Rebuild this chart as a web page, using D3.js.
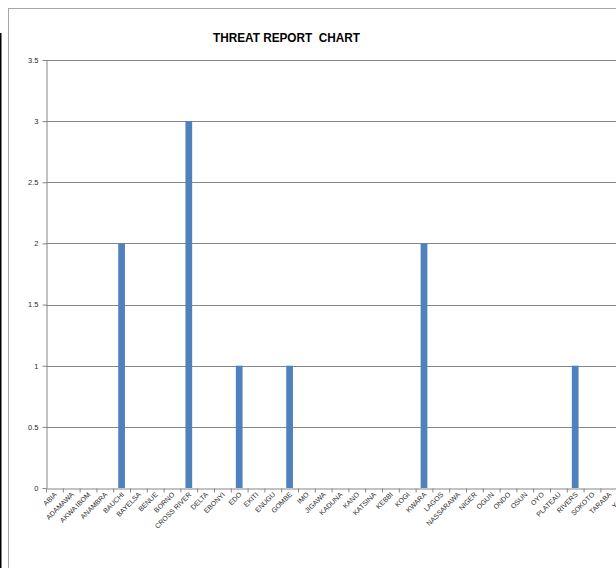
<html>
<head>
    <title>Threat report chart</title>
    <script src="https://d3js.org/d3.v7.min.js"></script>
    <style>
        body { margin: 0; background: #fff; }
        .grid line { stroke: #868686; stroke-width: 1px; }
        .axis path, .axis line { stroke: #868686; }
        .axis text { fill: #2b2b2b; font-family: "Liberation Sans", Arial, sans-serif; }
    </style>
</head>
<body>
<svg id="chart" width="616" height="568" style="background: #fff"></svg>
<script>
    // states on the category axis, in sheet order (the chart is cut off after YOBE)
    const states = ["ABIA", "ADAMAWA", "AKWA IBOM", "ANAMBRA", "BAUCHI", "BAYELSA", "BENUE", "BORNO",
        "CROSS RIVER", "DELTA", "EBONYI", "EDO", "EKITI", "ENUGU", "GOMBE", "IMO", "JIGAWA", "KADUNA",
        "KANO", "KATSINA", "KEBBI", "KOGI", "KWARA", "LAGOS", "NASSARAWA", "NIGER", "OGUN", "ONDO",
        "OSUN", "OYO", "PLATEAU", "RIVERS", "SOKOTO", "TARABA", "YOBE"];
    // number of threats reported per state
    const threats = [0, 0, 0, 0, 2, 0, 0, 0,
        3, 0, 0, 1, 0, 0, 1, 0, 0, 0,
        0, 0, 0, 0, 2, 0, 0, 0, 0, 0,
        0, 0, 0, 1, 0, 0, 0];
    const yTicks = [0, 0.5, 1, 1.5, 2, 2.5, 3, 3.5];

    const svg = d3.select("#chart");
    const width = +svg.attr("width");
    const height = +svg.attr("height");

    const plot = { left: 46, top: 60, bottom: 488, step: 16.8 };
    const plotRight = plot.left + plot.step * states.length;

    // stray black line at the left edge and the chart frame
    svg.append("line")
        .attr("x1", 0.75).attr("x2", 0.75)
        .attr("y1", 33).attr("y2", height)
        .attr("stroke", "#000").attr("stroke-width", 1.5);
    svg.append("rect")
        .attr("x", 8.5).attr("y", 8.5)
        .attr("width", width + 50).attr("height", height + 50)
        .attr("fill", "none").attr("stroke", "#a6a6a6");

    svg.append("text")
        .attr("x", 286.5).attr("y", 42)
        .attr("text-anchor", "middle")
        .attr("font-family", "Liberation Sans, Arial, sans-serif")
        .attr("font-weight", "bold")
        .attr("font-size", 13)
        .attr("textLength", 147)
        .attr("lengthAdjust", "spacingAndGlyphs")
        .attr("fill", "#000")
        .style("white-space", "pre")
        .text("THREAT REPORT  CHART");

    const x = d3.scaleBand().domain(states)
        .range([plot.left, plotRight])
        .paddingInner(0.6).paddingOuter(0.3);
    const xEdges = d3.scaleLinear().domain([0, states.length]).range([plot.left, plotRight]);
    const y = d3.scaleLinear().domain([0, 3.5]).range([plot.bottom, plot.top]);

    // horizontal gridlines
    svg.append("g").attr("class", "grid")
        .selectAll("line").data(yTicks.filter(d => d > 0))
        .join("line")
        .attr("x1", plot.left).attr("x2", plotRight)
        .attr("y1", d => Math.round(y(d)) + 0.5)
        .attr("y2", d => Math.round(y(d)) + 0.5);

    // bars
    svg.append("g")
        .selectAll("rect").data(states)
        .join("rect")
        .attr("x", d => x(d))
        .attr("width", x.bandwidth())
        .attr("y", (d, i) => y(threats[i]))
        .attr("height", (d, i) => y(0) - y(threats[i]))
        .attr("fill", "#4f81bd");

    // y axis
    const yAxis = svg.append("g").attr("class", "axis")
        .attr("transform", `translate(${plot.left + 0.5},0)`)
        .call(d3.axisLeft(y).tickValues(yTicks).tickSize(4).tickSizeOuter(0).tickPadding(4)
            .tickFormat(d => String(d)));
    yAxis.selectAll("text").attr("font-size", 7.5);

    // x axis line and tick marks between categories
    svg.append("g").attr("class", "axis")
        .attr("transform", `translate(0,${plot.bottom + 0.5})`)
        .call(d3.axisBottom(xEdges).tickValues(d3.range(states.length + 1))
            .tickSize(4).tickSizeOuter(0).tickFormat(""));

    // rotated category labels
    const xLabels = svg.append("g").attr("class", "axis")
        .attr("transform", `translate(0,${plot.bottom})`)
        .call(d3.axisBottom(x).tickSize(0).tickPadding(0));
    xLabels.select(".domain").remove();
    xLabels.selectAll("text")
        .attr("font-size", 7)
        .attr("text-anchor", "end")
        .attr("dy", 0)
        .attr("transform", "translate(3,7) rotate(-45)");
</script>
</body>
</html>
